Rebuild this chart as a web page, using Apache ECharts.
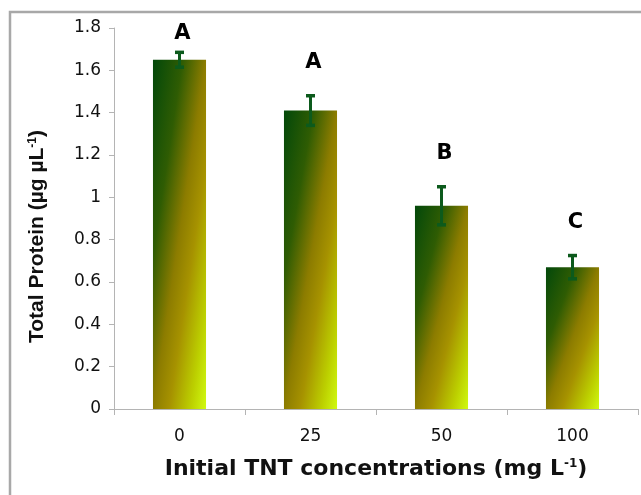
<!DOCTYPE html>
<html>
<head>
<meta charset="utf-8">
<script src="https://cdn.jsdelivr.net/npm/echarts@6/dist/echarts.min.js"></script>
<style>
html,body{margin:0;padding:0;background:#fff;}
#chart{width:641px;height:495px;}
</style>
</head>
<body>
<div id="chart"></div>
<script>
var categories = ['0', '25', '50', '100'];
var proteinMeans = [1.65, 1.41, 0.96, 0.67];
var proteinErrors = [0.035, 0.07, 0.09, 0.055];
var groupLetters = ['A', 'A', 'B', 'C'];
var yMin = 0, yMax = 1.8, yStep = 0.2;

var chart = echarts.init(document.getElementById('chart'), null, {renderer: 'canvas'});

var rows = categories.map(function (c, i) { return [i, proteinMeans[i], proteinErrors[i]]; });
var GRID_TOP = 28;
var TICK_FONT = '"DejaVu Sans", sans-serif';

var option = {
  animation: false,
  backgroundColor: '#ffffff',
  graphic: [{
    type: 'rect', silent: true, z: 100,
    shape: {x: 10, y: 12, width: 700, height: 600},
    style: {fill: 'none', stroke: '#a8a8a8', lineWidth: 2.5}
  }],
  grid: {left: 114, right: 3, top: GRID_TOP, bottom: 86, containLabel: false},
  xAxis: {
    type: 'category',
    data: categories,
    boundaryGap: true,
    axisLine: {lineStyle: {color: '#b4b4b4', width: 1}},
    axisTick: {show: true, length: 6, alignWithLabel: false, lineStyle: {color: '#b4b4b4'}},
    axisLabel: {color: '#111', fontFamily: TICK_FONT, fontSize: 17, margin: 19},
    name: 'Initial TNT concentrations (mg L{sup|-1})',
    nameLocation: 'middle',
    nameGap: 49,
    nameTextStyle: {
      color: '#111', fontFamily: TICK_FONT, fontSize: 22, fontWeight: 'bold',
      rich: {sup: {fontSize: 12, fontWeight: 'bold', fontFamily: TICK_FONT, color: '#111', verticalAlign: 'top', padding: [0, 0, 10, 0]}}
    }
  },
  yAxis: {
    type: 'value',
    min: yMin, max: yMax, interval: yStep,
    splitLine: {show: false},
    axisLine: {show: true, lineStyle: {color: '#b4b4b4', width: 1}},
    axisTick: {show: true, length: 5, lineStyle: {color: '#b4b4b4'}},
    axisLabel: {color: '#111', fontFamily: TICK_FONT, fontSize: 17, margin: 13},
    name: 'Total Protein (µg µL{sup|-1})',
    nameLocation: 'middle',
    nameGap: 66,
    nameTextStyle: {
      color: '#111', fontFamily: 'Liberation Sans, Arial', fontSize: 21, fontWeight: 'bold',
      padding: [0, 36, 0, 0],
      rich: {sup: {fontSize: 12, fontWeight: 'bold', fontFamily: 'Liberation Sans, Arial', color: '#111', verticalAlign: 'top', padding: [0, 0, 9, 0]}}
    }
  },
  series: [
    {
      type: 'custom',
      name: 'bars',
      data: rows,
      encode: {x: 0, y: 1},
      renderItem: function (params, api) {
        var idx = api.value(0), v = api.value(1);
        var top = api.coord([idx, v]);
        var base = api.coord([idx, 0]);
        var bw = api.size([1, 0])[0] * 0.405;
        var x = top[0] - bw / 2, y = top[1], w = bw, h = base[1] - top[1];
        var d = h * h + w * w;
        var ex = x + 2 * w * h * h / d, ey = y + 2 * w * w * h / d;
        var grad = new echarts.graphic.LinearGradient(x, y, ex, ey, [
          {offset: 0, color: '#02480a'},
          {offset: 0.28, color: '#2f5c03'},
          {offset: 0.5, color: '#8c7c00'},
          {offset: 0.65, color: '#a69200'},
          {offset: 0.85, color: '#bccf00'},
          {offset: 1, color: '#d0fa10'}
        ], true);
        return {type: 'rect', shape: {x: x, y: y, width: w, height: h}, style: {fill: grad}};
      },
      z: 2
    },
    {
      type: 'custom',
      name: 'errors',
      data: rows,
      encode: {x: 0, y: 1},
      renderItem: function (params, api) {
        var idx = api.value(0), v = api.value(1), e = api.value(2);
        var hi = api.coord([idx, v + e]);
        var lo = api.coord([idx, v - e]);
        var cap = 4.5;
        var st = {stroke: '#0c5a1c', lineWidth: 3};
        var capSt = {stroke: '#0c5a1c', lineWidth: 3.5};
        return {type: 'group', children: [
          {type: 'line', shape: {x1: hi[0], y1: hi[1], x2: lo[0], y2: lo[1]}, style: st},
          {type: 'line', shape: {x1: hi[0] - cap, y1: hi[1], x2: hi[0] + cap, y2: hi[1]}, style: capSt},
          {type: 'line', shape: {x1: lo[0] - cap, y1: lo[1], x2: lo[0] + cap, y2: lo[1]}, style: capSt}
        ]};
      },
      z: 3
    },
    {
      type: 'custom',
      name: 'letters',
      data: rows,
      encode: {x: 0, y: 1},
      renderItem: function (params, api) {
        var idx = api.value(0), v = api.value(1), e = api.value(2);
        var p = api.coord([idx, v + e]);
        var cy = Math.max(p[1] - 33, GRID_TOP + 6);
        return {type: 'text', x: p[0] + 3, y: cy, style: {
          text: groupLetters[params.dataIndex], fill: '#000', font: 'bold 21px "DejaVu Sans", sans-serif',
          textAlign: 'center', textVerticalAlign: 'middle'
        }};
      },
      z: 4
    }
  ]
};
chart.setOption(option);
</script>
</body>
</html>
